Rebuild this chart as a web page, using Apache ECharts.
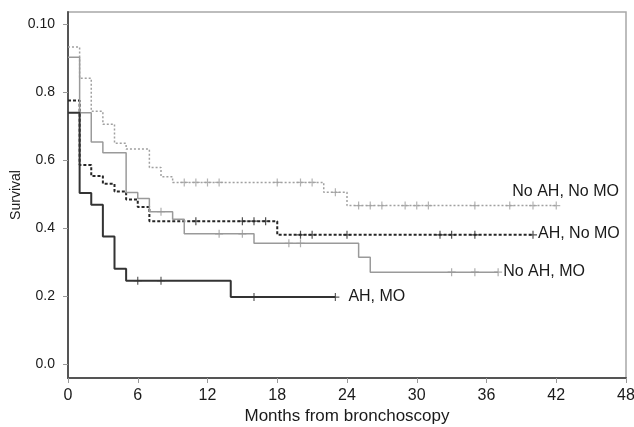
<!DOCTYPE html>
<html>
<head>
<meta charset="UTF-8">
<title>Survival by group</title>
<script src="https://cdn.jsdelivr.net/npm/echarts@6.0.0/dist/echarts.min.js"></script>
<style>
    html, body { margin: 0; padding: 0; background: #fff; }
    #chart { width: 634px; height: 427px; }
</style>
</head>
<body>
<div id="chart"></div>
<script>
    // x axis ticks (months) and y axis ticks; the top label reads "0.10" in the original
    const xTicks = [0, 6, 12, 18, 24, 30, 36, 42, 48];
    const yTickValues = [0, 0.2, 0.4, 0.6, 0.8, 1.0];
    const yTickLabels = ['0.0', '0.2', '0.4', '0.6', '0.8', '0.10'];

    // step times (months) and survival from that time on; last entry = end of follow-up
    const noAhNoMoTimes = [0, 1, 2, 3, 4, 5, 7, 8, 9, 22, 24, 42];
    const noAhNoMoSurv = [0.932, 0.840, 0.743, 0.705, 0.649, 0.632, 0.578, 0.551, 0.534, 0.505, 0.466, 0.466];
    const noAhNoMoCensor = [10, 11, 12, 13, 18, 20, 21, 23, 25, 26, 27, 29, 30, 31, 35, 38, 40, 42];

    const ahNoMoTimes = [0, 1, 2, 3, 4, 5, 6, 7, 18, 40];
    const ahNoMoSurv = [0.775, 0.585, 0.553, 0.530, 0.507, 0.484, 0.462, 0.420, 0.380, 0.380];
    const ahNoMoCensor = [11, 15, 16, 17, 20, 21, 24, 32, 33, 35, 40];

    const noAhMoTimes = [0, 1, 2, 3, 5, 6, 7, 9, 10, 16, 25, 26, 37];
    const noAhMoSurv = [0.902, 0.739, 0.653, 0.621, 0.504, 0.487, 0.448, 0.426, 0.383, 0.355, 0.314, 0.270, 0.270];
    const noAhMoCensor = [8, 13, 15, 19, 20, 33, 35, 37];

    const ahMoTimes = [0, 1, 2, 3, 4, 5, 14, 23];
    const ahMoSurv = [0.739, 0.503, 0.468, 0.375, 0.280, 0.245, 0.197, 0.197];
    const ahMoCensor = [6, 8, 16, 23];

    const plusMark = 'path://M3.4,0H4.6V3.4H8V4.6H4.6V8H3.4V4.6H0V3.4H3.4Z';
    const font = 'Liberation Sans, Arial, sans-serif';

    // survival value of a step curve at time t
    function survAt(times, surv, t) {
        let v = surv[0];
        for (let i = 0; i < times.length; i++) {
            if (times[i] <= t) v = surv[i];
        }
        return v;
    }

    function curve(name, times, surv, censor, color, width, type, labelOffset) {
        return [{
            name: name,
            type: 'line',
            step: 'end',
            symbol: 'none',
            data: times.map((t, i) => [t, surv[i]]),
            lineStyle: { color: color, width: width, type: type },
            endLabel: {
                show: true,
                formatter: '{a}',
                distance: 5,
                offset: labelOffset,
                fontSize: 16,
                fontFamily: font,
                color: '#1a1a1a'
            },
            silent: true,
            z: 3
        }, {
            name: name + ' censored',
            type: 'scatter',
            symbol: plusMark,
            symbolSize: 8,
            data: censor.map(t => [t, survAt(times, surv, t)]),
            itemStyle: { color: color },
            silent: true,
            z: 4
        }];
    }

    const chart = echarts.init(document.getElementById('chart'));

    const option = {
        animation: false,
        grid: {
            left: 68, right: 8, top: 12, bottom: 49,
            containLabel: false,
            outerBoundsMode: 'none',
            show: true,
            borderColor: '#a8a8a8',
            borderWidth: 1.5
        },
        xAxis: {
            type: 'value',
            min: xTicks[0],
            max: xTicks[xTicks.length - 1],
            interval: 6,
            name: 'Months from bronchoscopy',
            nameLocation: 'middle',
            nameGap: 30,
            nameMoveOverlap: false,
            nameTextStyle: { fontSize: 17, color: '#1a1a1a', fontFamily: font },
            axisLine: { show: true, onZero: false, lineStyle: { color: '#555', width: 2 } },
            axisTick: { show: true, length: 5, lineStyle: { color: '#999' } },
            axisLabel: { fontSize: 16, color: '#1a1a1a', margin: 10, fontFamily: font },
            splitLine: { show: false }
        },
        yAxis: {
            type: 'value',
            min: -0.041,
            max: 1.035,
            name: 'Survival',
            nameLocation: 'middle',
            nameGap: 45,
            nameMoveOverlap: false,
            nameTextStyle: { fontSize: 14, color: '#1a1a1a', fontFamily: font },
            axisLine: { show: true, onZero: false, lineStyle: { color: '#555', width: 2 } },
            axisTick: { show: true, length: 5, customValues: yTickValues, lineStyle: { color: '#999' } },
            axisLabel: {
                customValues: yTickValues,
                fontSize: 14,
                color: '#1a1a1a',
                margin: 13,
                fontFamily: font,
                formatter: function (v) {
                    let best = 0;
                    yTickValues.forEach((tv, i) => {
                        if (Math.abs(tv - v) < Math.abs(yTickValues[best] - v)) best = i;
                    });
                    return yTickLabels[best];
                }
            },
            splitLine: { show: false }
        },
        series: [
            ...curve('No AH, No MO', noAhNoMoTimes, noAhNoMoSurv, noAhNoMoCensor, '#a0a0a0', 1.5, [2, 2], [-49, -14]),
            ...curve('AH, No MO', ahNoMoTimes, ahNoMoSurv, ahNoMoCensor, '#262626', 2, [3, 2], [0, -1]),
            ...curve('No AH, MO', noAhMoTimes, noAhMoSurv, noAhMoCensor, '#9a9a9a', 1.5, 'solid', [0, -1]),
            ...curve('AH, MO', ahMoTimes, ahMoSurv, ahMoCensor, '#333333', 2, 'solid', [8, 0])
        ]
    };

    chart.setOption(option);
</script>
</body>
</html>
